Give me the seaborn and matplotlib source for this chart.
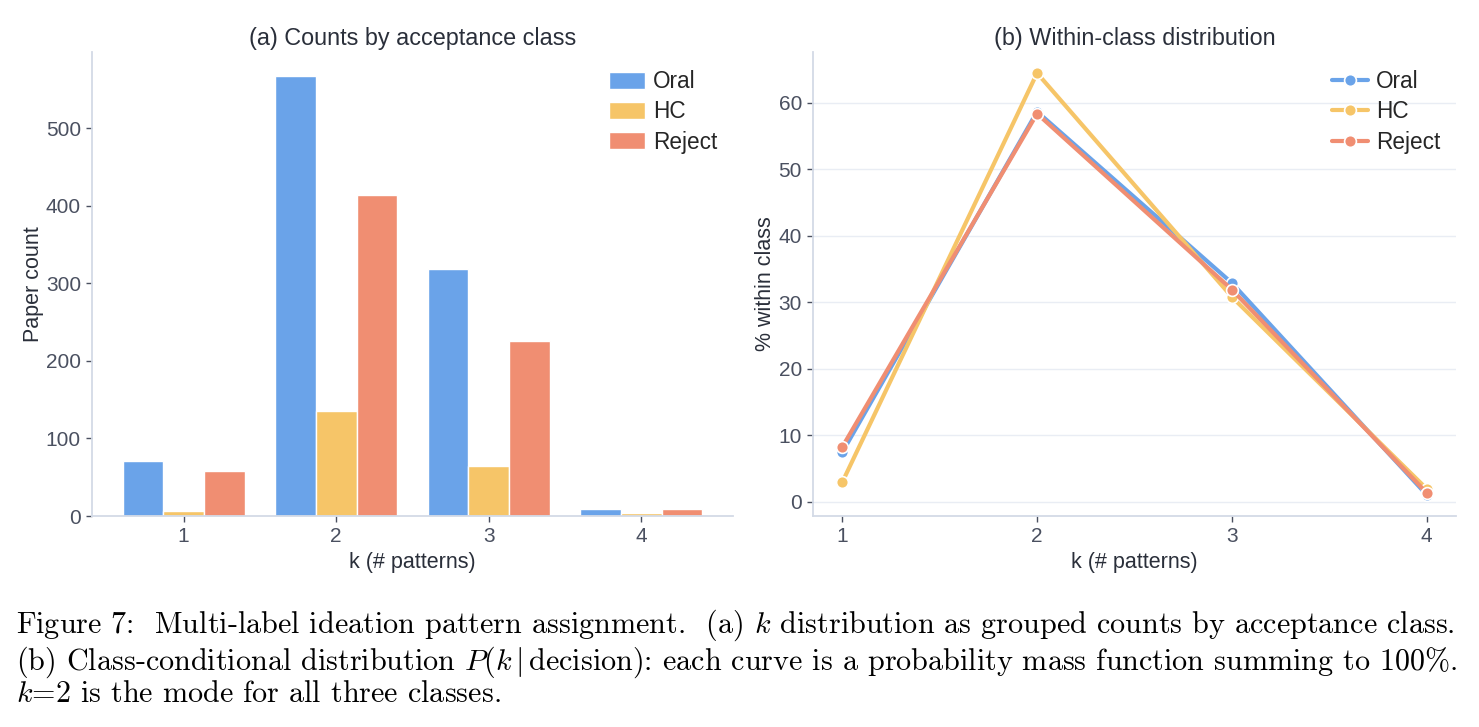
import matplotlib
matplotlib.use("Agg")
import matplotlib.pyplot as plt
import seaborn as sns
import pandas as pd

# ---- data ----
k_values = [1, 2, 3, 4]
classes = ["Oral", "HC", "Reject"]
oral_counts = [71, 567, 318, 9]
hc_counts = [6, 135, 64, 4]
reject_counts = [58, 414, 226, 9]
oral_pct = [7.4, 58.7, 32.9, 1.0]
hc_pct = [2.9, 64.5, 30.8, 1.9]
reject_pct = [8.2, 58.4, 31.9, 1.3]
palette = {"Oral": "#6aa3e9", "HC": "#f6c568", "Reject": "#f08e72"}

counts_df = pd.DataFrame({
    "k": [str(k) for k in k_values] * 3,
    "cls": sum([[c] * 4 for c in classes], []),
    "count": oral_counts + hc_counts + reject_counts,
})
pct_df = pd.DataFrame({
    "k": k_values * 3,
    "cls": sum([[c] * 4 for c in classes], []),
    "pct": oral_pct + hc_pct + reject_pct,
})

sns.set_theme(style="white")
plt.rcParams["font.family"] = ["Liberation Sans", "DejaVu Sans"]
plt.rcParams["mathtext.fontset"] = "cm"

spine_c = "#d3dae6"
tick_c = "#4a5060"
text_c = "#2a2f3a"
title_fs = 16.8
label_fs = 15.5
tick_fs = 15
legend_fs = 16.3

fig = plt.figure(figsize=(14.79, 7.27), dpi=100)
ax1 = fig.add_axes([92 / 1479, 1 - 516 / 727, 641 / 1479, 464 / 727])
ax2 = fig.add_axes([813 / 1479, 1 - 516 / 727, 643 / 1479, 464 / 727])

# ---- (a) bars ----
sns.barplot(data=counts_df, x="k", y="count", hue="cls", hue_order=classes,
            palette=palette, ax=ax1, width=0.8, edgecolor="white", linewidth=1.0,
            saturation=1.0)
ax1.set_xlim(-0.6, 3.6)
ax1.set_ylim(0, 598)
ax1.set_yticks([0, 100, 200, 300, 400, 500])
ax1.set_title("(a) Counts by acceptance class", fontsize=title_fs, color=text_c, pad=5)
ax1.set_xlabel("k (# patterns)", fontsize=label_fs, color=text_c, labelpad=4)
ax1.set_ylabel("Paper count", fontsize=label_fs, color=text_c, labelpad=1)
ax1.legend(frameon=False, loc="upper right", fontsize=legend_fs, handlelength=1.6,
           handleheight=0.75, handletextpad=0.35, labelspacing=0.32,
           borderaxespad=0.3, bbox_to_anchor=(1.0, 0.995))

# ---- (b) lines ----
sns.lineplot(data=pct_df, x="k", y="pct", hue="cls", hue_order=classes,
             palette=palette, ax=ax2, marker="o", markersize=8.5, linewidth=3,
             markeredgecolor="white", markeredgewidth=1.2)
ax2.set_xticks(k_values)
ax2.set_yticks([0, 10, 20, 30, 40, 50, 60])
ax2.grid(axis="y", color="#e9edf4", linewidth=1.0)
ax2.set_axisbelow(True)
ax2.set_title("(b) Within-class distribution", fontsize=title_fs, color=text_c, pad=5)
ax2.set_xlabel("k (# patterns)", fontsize=label_fs, color=text_c, labelpad=4)
ax2.set_ylabel("% within class", fontsize=label_fs, color=text_c, labelpad=2)
ax2.legend(frameon=False, loc="upper right", fontsize=legend_fs, handlelength=1.6,
           handletextpad=0.35, labelspacing=0.32, borderaxespad=0.3,
           bbox_to_anchor=(1.0, 0.995))

for ax in (ax1, ax2):
    for s in ("top", "right"):
        ax.spines[s].set_visible(False)
    for s in ("left", "bottom"):
        ax.spines[s].set_color(spine_c)
        ax.spines[s].set_linewidth(1.3)
    ax.tick_params(axis="both", which="both", length=4, width=1, color=tick_c,
                   labelcolor=tick_c, labelsize=tick_fs, left=True, bottom=True, pad=4)

# ---- caption (one multi-line text block) ----
caption = "\n".join([
    r"Figure 7:  Multi-label ideation pattern assignment.  (a) $k$ distribution as grouped counts by acceptance class.",
    r"(b) Class-conditional distribution $P(k\,|\,\mathrm{decision})$: each curve is a probability mass function summing to 100%.",
    r"$k$=2 is the mode for all three classes.",
])
fig.text(16 / 1479, 1 - 658 / 727, caption, va="center", ha="left",
         family="cmr10", fontsize=21.7, color="black", linespacing=1.03)

fig.savefig("out.png", dpi=100)
